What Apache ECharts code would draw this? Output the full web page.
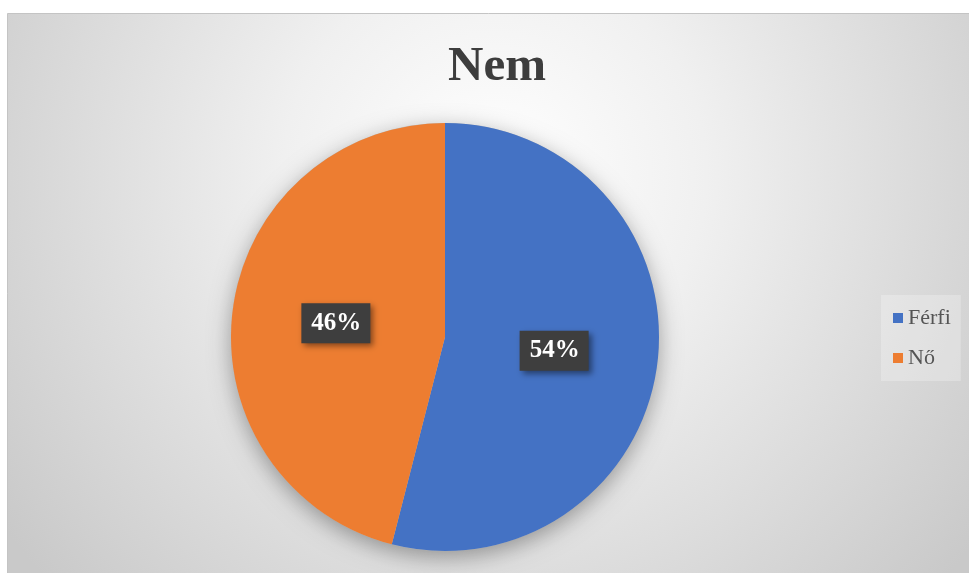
<!DOCTYPE html>
<html>
<head>
<meta charset="utf-8">
<style>
  html, body { margin: 0; padding: 0; background: #ffffff; }
  #chart { width: 969px; height: 573px; }
</style>
<script src="https://cdn.jsdelivr.net/npm/echarts@6/dist/echarts.min.js"></script>
</head>
<body>
<div id="chart"></div>
<script>
// Gender split of respondents (percent)
const categories = ['Férfi', 'Nő'];
const shares = [54, 46];
const sliceColors = ['#4472C4', '#ED7D31'];
const titleText = 'Nem';

const serif = '"Liberation Serif", "Times New Roman", "DejaVu Serif", serif';

const chart = echarts.init(document.getElementById('chart'), null, { renderer: 'canvas' });

chart.setOption({
  backgroundColor: '#ffffff',
  animation: false,
  color: sliceColors,
  graphic: [{
    type: 'rect',
    z: -10,
    silent: true,
    shape: { x: 7.5, y: 13.5, width: 975, height: 575 },
    style: {
      fill: {
        type: 'radial', x: 0.5, y: 0.28, r: 1.05,
        colorStops: [
          { offset: 0, color: '#ffffff' },
          { offset: 0.35, color: '#f0f0f0' },
          { offset: 1, color: '#c9c9c9' }
        ]
      },
      stroke: '#c4c4c4',
      lineWidth: 1
    }
  }],
  title: {
    text: titleText,
    left: 443,
    top: 38,
    textStyle: {
      fontFamily: serif,
      fontWeight: 'bold',
      fontSize: 49,
      color: '#3d3d3d'
    }
  },
  legend: {
    orient: 'vertical',
    left: 881,
    top: 295,
    data: categories,
    backgroundColor: 'rgba(255,255,255,0.25)',
    padding: [11, 10, 11, 12],
    itemWidth: 10,
    itemHeight: 10,
    itemGap: 16,
    icon: 'rect',
    textStyle: {
      fontFamily: serif,
      fontSize: 22,
      lineHeight: 24,
      color: '#555555'
    }
  },
  series: [
    {
      // soft drop shadow beneath the pie
      type: 'pie',
      silent: true,
      z: 1,
      center: [445, 337],
      radius: 214,
      label: { show: false },
      labelLine: { show: false },
      tooltip: { show: false },
      legendHoverLink: false,
      itemStyle: {
        color: '#bbbbbb',
        shadowBlur: 22,
        shadowOffsetY: 6,
        shadowColor: 'rgba(0,0,0,0.35)'
      },
      data: [{ value: 1, name: '__shadow' }]
    },
    {
      type: 'pie',
      z: 2,
      center: [445, 337],
      radius: 214,
      startAngle: 90,
      clockwise: true,
      itemStyle: { borderWidth: 0 },
      label: {
        show: true,
        position: 'inside',
        formatter: '{c}%',
        fontFamily: serif,
        fontWeight: 'bold',
        fontSize: 25,
        lineHeight: 26,
        color: '#ffffff',
        backgroundColor: '#3e3e3e',
        padding: [7, 9, 7, 10],
        shadowBlur: 6,
        shadowOffsetX: 3,
        shadowOffsetY: 3,
        shadowColor: 'rgba(0,0,0,0.45)'
      },
      labelLine: { show: false },
      emphasis: { disabled: true },
      data: categories.map((name, i) => ({ name: name, value: shares[i] }))
    }
  ]
});
</script>
</body>
</html>
